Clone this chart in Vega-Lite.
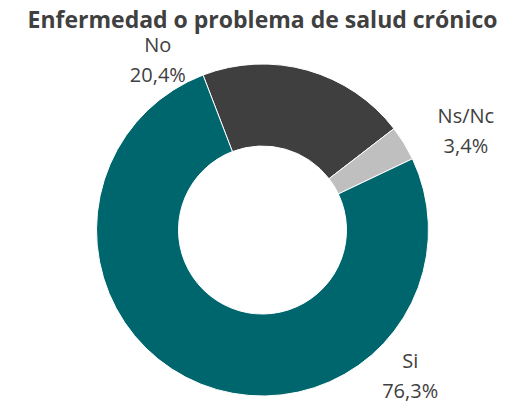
{
  "$schema": "https://vega.github.io/schema/vega-lite/v6.json",
  "width": 525,
  "height": 368,
  "autosize": "none",
  "padding": {"top": 46, "bottom": 0, "left": 0, "right": 0},
  "background": "white",
  "config": {"view": {"stroke": null}, "font": "Open Sans"},
  "title": {
    "text": "Enfermedad o problema de salud crónico",
    "fontSize": 23,
    "fontWeight": "bold",
    "color": "#404040",
    "anchor": "middle",
    "frame": "group",
    "offset": 3,
    "font": "Open Sans"
  },
  "data": {
    "values": [
      {"cat": "No", "pct": 20.4, "label": "No\n20,4%"},
      {"cat": "Ns/Nc", "pct": 3.4, "label": "Ns/Nc\n3,4%"},
      {"cat": "Si", "pct": 76.3, "label": "Si\n76,3%"}
    ]
  },
  "transform": [
    {"stack": "pct", "groupby": [], "sort": [{"field": "cat", "order": "ascending"}], "as": ["t0", "t1"]}
  ],
  "layer": [
    {
      "mark": {"type": "arc", "innerRadius": 84, "outerRadius": 166, "stroke": "white", "strokeWidth": 1},
      "encoding": {
        "theta": {"field": "t0", "type": "quantitative", "scale": {"domain": [0, 100.1], "range": [-0.3665, 5.9167]}},
        "theta2": {"field": "t1"},
        "color": {"field": "cat", "type": "nominal", "legend": null, "scale": {"domain": ["No", "Ns/Nc", "Si"], "range": ["#3F3F3F", "#BFBFBF", "#00666E"]}}
      }
    },
    {
      "transform": [{"filter": "datum.cat === 'No'"}],
      "mark": {"type": "text", "radius": 200, "dx": -33, "dy": 3, "fontSize": 20, "lineBreak": "\n", "lineHeight": 30, "baseline": "middle", "align": "center", "color": "#404040"},
      "encoding": {"theta": {"field": "t0", "type": "quantitative", "stack": null}, "text": {"field": "label"}}
    },
    {
      "transform": [{"filter": "datum.cat === 'Ns/Nc'"}],
      "mark": {"type": "text", "radius": 200, "dx": 45, "dy": 9, "fontSize": 20, "lineBreak": "\n", "lineHeight": 30, "baseline": "middle", "align": "center", "color": "#404040"},
      "encoding": {"theta": {"field": "t0", "type": "quantitative", "stack": null}, "text": {"field": "label"}}
    },
    {
      "transform": [{"filter": "datum.cat === 'Si'"}],
      "mark": {"type": "text", "radius": 200, "dx": -33, "dy": 218, "fontSize": 20, "lineBreak": "\n", "lineHeight": 30, "baseline": "middle", "align": "center", "color": "#404040"},
      "encoding": {"theta": {"field": "t0", "type": "quantitative", "stack": null}, "text": {"field": "label"}}
    }
  ]
}
